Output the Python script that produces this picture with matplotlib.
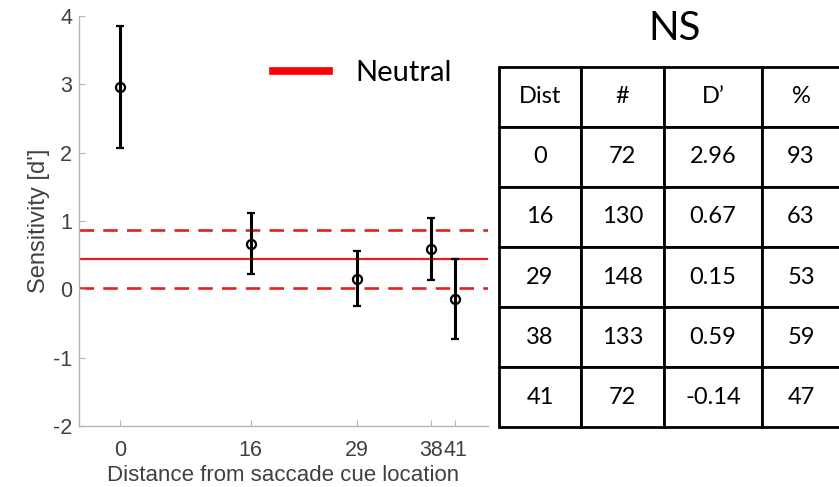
import matplotlib
matplotlib.use("Agg")
import matplotlib.pyplot as plt
from matplotlib.lines import Line2D

# ---- data ----
distances = [0, 16, 29, 38, 41]
dprime = [2.96, 0.67, 0.15, 0.59, -0.14]
err_upper = [0.90, 0.45, 0.41, 0.45, 0.59]
err_lower = [0.89, 0.44, 0.40, 0.45, 0.58]
neutral_mean = 0.44
neutral_hi = 0.87
neutral_lo = 0.02
xtick_labels = ["0", "16", "29", "38", "41"]
yticks = [-2, -1, 0, 1, 2, 3, 4]

table_header = ["Dist", "#", "D\u2019", "%"]
table_dist = ["0", "16", "29", "38", "41"]
table_n = ["72", "130", "148", "133", "72"]
table_d = ["2.96", "0.67", "0.15", "0.59", "-0.14"]
table_pct = ["93", "63", "53", "59", "47"]

W, H = 839, 487
fig = plt.figure(figsize=(W / 100, H / 100), dpi=100)

def rect(x0, y0, x1, y1):
    return [x0 / W, 1 - y1 / H, (x1 - x0) / W, (y1 - y0) / H]

ax = fig.add_axes(rect(79, 16, 488, 426))
gray_spine = "#b4b4b4"
gray_text = "#404040"
line_red = "#e3201f"

ax.axhline(neutral_mean, color=line_red, lw=1.6, zorder=1)
ax.axhline(neutral_hi, color=line_red, lw=1.9, ls=(0, (5.5, 3.5)), zorder=1)
ax.axhline(neutral_lo, color=line_red, lw=1.9, ls=(0, (5.5, 3.5)), zorder=1)

ax.errorbar(distances, dprime, yerr=[err_lower, err_upper], fmt="o",
            mfc="none", mec="black", mew=1.6, ms=6.5, ecolor="black",
            elinewidth=2.2, capsize=3, capthick=1.8, zorder=3)

ax.set_xlim(-5, 45)
ax.set_ylim(-2, 4)
ax.set_xticks(distances)
ax.set_xticklabels(xtick_labels)
ax.set_yticks(yticks)
ax.set_yticklabels([str(v) for v in yticks])
for s in ["top", "right"]:
    ax.spines[s].set_visible(False)
for s in ["left", "bottom"]:
    ax.spines[s].set_color(gray_spine)
    ax.spines[s].set_linewidth(1.0)
ax.tick_params(direction="in", length=4, width=0.8, color=gray_spine,
               labelcolor=gray_text, labelsize=15.5)
ax.tick_params(axis="x", pad=10)
ax.tick_params(axis="y", pad=5)
for lab in ax.get_xticklabels() + ax.get_yticklabels():
    lab.set_family("Liberation Sans")
ax.set_xlabel("Distance from saccade cue location", fontsize=16,
              family="Liberation Sans", color=gray_text, labelpad=3)
ax.set_ylabel("Sensitivity [d']", fontsize=17, family="Liberation Sans",
              color=gray_text, labelpad=2)

leg = ax.legend(handles=[Line2D([], [], color="red", lw=5.5)], labels=["Neutral"],
                loc="center left", bbox_to_anchor=(0.475, 0.86), frameon=False,
                borderpad=0, borderaxespad=0, handlelength=1.9, handletextpad=0.9,
                prop={"family": "Lato", "size": 21})

# ---- table ----
tax = fig.add_axes(rect(499, 67, 840, 427))
tax.axis("off")
cells = [table_header] + [[a, b, c, d] for a, b, c, d in
                          zip(table_dist, table_n, table_d, table_pct)]
widths = [82, 83, 98, 78]
tot = sum(widths)
tbl = tax.table(cellText=cells, colWidths=[w / tot for w in widths],
                cellLoc="center", bbox=[0, 0, 1, 1])
tbl.auto_set_font_size(False)
for (r, c), cell in tbl.get_celld().items():
    cell.set_linewidth(2.0)
    cell.set_edgecolor("black")
    cell.get_text().set_fontsize(17)
    cell.get_text().set_family("Lato")

fig.text(675 / W, 1 - 28 / H, "NS", ha="center", va="center",
         fontsize=29, family="Lato")

fig.savefig("out.png", dpi=100)
